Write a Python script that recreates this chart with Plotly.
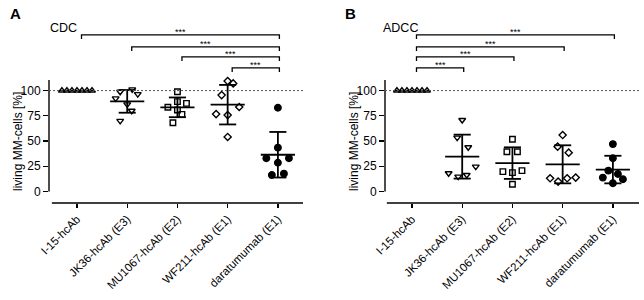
import numpy as np
import plotly.graph_objects as go

categories = ["I-15-hcAb", "JK36-hcAb (E3)", "MU1067-hcAb (E2)", "WF211-hcAb (E1)", "daratumumab (E1)"]

# Panel A: CDC, living MM-cells [%]
cdc_i15 = [100, 100, 100, 100, 100, 100, 100]
cdc_jk36 = [98.8, 101.2, 96.5, 92.3, 86.3, 80.0, 70.0]
cdc_mu1067 = [98.8, 89.0, 87.3, 83.4, 80.7, 76.4, 68.1]
cdc_wf211 = [109.4, 107.1, 95.5, 83.7, 76.7, 75.7, 54.0]
cdc_dara = [83.0, 43.4, 32.9, 32.9, 28.5, 16.3, 17.6]

# Panel B: ADCC, living MM-cells [%]
adcc_i15 = [100, 100, 100, 100, 100, 100, 100]
adcc_jk36 = [70.8, 53.3, 43.8, 24.6, 18.0, 14.7, 16.3]
adcc_mu1067 = [51.7, 39.4, 39.4, 19.6, 18.6, 20.6, 7.1]
adcc_wf211 = [55.9, 44.4, 38.4, 13.0, 9.7, 13.0, 13.7]
adcc_dara = [46.9, 32.9, 20.6, 17.3, 13.7, 12.1, 8.1]

# significance comparisons (group index pairs) and labels
cdc_pairs = [(0, 4), (1, 4), (2, 4), (3, 4)]
adcc_pairs = [(0, 4), (0, 3), (0, 2), (0, 1)]
sig_labels = ["***", "***", "***", "***"]

# ---- styling / placement (not data) ----
jitter_i15 = [-0.3, -0.2, -0.1, 0.0, 0.1, 0.2, 0.3]
cdc_jitter = [jitter_i15,
              [-0.14, 0.10, 0.21, -0.23, 0.0, 0.09, -0.14],
              [0.0, 0.0, 0.18, -0.19, 0.0, 0.09, -0.09],
              [0.0, 0.11, -0.12, 0.23, -0.23, 0.0, 0.0],
              [0.0, 0.0, -0.23, 0.22, 0.0, -0.12, 0.12]]
adcc_jitter = [jitter_i15,
               [0.0, -0.1, 0.12, 0.27, -0.27, -0.08, 0.09],
               [0.0, -0.11, 0.1, -0.19, 0.0, 0.19, 0.0],
               [0.0, -0.1, 0.12, -0.25, -0.09, 0.09, 0.26],
               [0.0, 0.0, -0.09, 0.1, -0.2, 0.2, 0.0]]
symbols = ["triangle-up-open", "triangle-down-open", "square-open", "diamond-open", "circle"]
sizes = [6, 6, 5.5, 5.5, 6.5]
bracket_y = [155.2, 143.3, 133.4, 122.5]
FONT = "Liberation Sans, Arial, sans-serif"

fig = go.Figure()


def add_panel(groups, jitters, xa, ya, pairs):
    for i, (vals, jit) in enumerate(zip(groups, jitters)):
        vals = np.array(vals, dtype=float)
        xs = [i + j for j in jit]
        fig.add_trace(go.Scatter(
            x=xs, y=vals, mode="markers", xaxis=xa, yaxis=ya, showlegend=False,
            cliponaxis=False,
            marker=dict(symbol=symbols[i], size=sizes[i], color="black",
                        line=dict(width=1.4, color="black"))))
        m = vals.mean()
        sd = vals.std(ddof=1)
        fig.add_trace(go.Scatter(x=[i - 0.34, i + 0.34], y=[m, m], mode="lines",
                                 xaxis=xa, yaxis=ya, showlegend=False,
                                 line=dict(color="black", width=1.8)))
        if sd > 0:
            fig.add_trace(go.Scatter(
                x=[i, i, None, i - 0.17, i + 0.17, None, i - 0.17, i + 0.17],
                y=[m - sd, m + sd, None, m + sd, m + sd, None, m - sd, m - sd],
                mode="lines", xaxis=xa, yaxis=ya, showlegend=False,
                line=dict(color="black", width=1.8)))
    for k, (a, b) in enumerate(pairs):
        y = bracket_y[k]
        x0 = a + 0.09
        x1 = b + 0.03
        fig.add_shape(type="path",
                      path=f"M {x0} {y-4} L {x0} {y} L {x1} {y} L {x1} {y-4}",
                      xref=xa, yref=ya, line=dict(color="black", width=1.3))
        fig.add_annotation(x=(x0 + x1) / 2, y=y, xref=xa, yref=ya, text=sig_labels[k],
                           showarrow=False, yanchor="bottom", yshift=-4,
                           font=dict(size=9, color="black", family=FONT))


add_panel([cdc_i15, cdc_jk36, cdc_mu1067, cdc_wf211, cdc_dara], cdc_jitter, "x", "y", cdc_pairs)
add_panel([adcc_i15, adcc_jk36, adcc_mu1067, adcc_wf211, adcc_dara], adcc_jitter, "x2", "y2", adcc_pairs)

W, H = 644, 300
ydom = [(H - 203) / H, (H - 20) / H]
yrange = [-11.5, 170.0]
common_x = dict(tickvals=list(range(5)), ticktext=categories, tickangle=-45,
                ticks="outside", ticklen=4, tickwidth=1.3, tickcolor="black",
                showline=False, showgrid=False, zeroline=False, automargin=False,
                tickfont=dict(size=11.5, color="black", family=FONT))
common_y = dict(range=yrange, domain=ydom, tickvals=[0, 25, 50, 75, 100],
                ticks="outside", ticklen=5, tickwidth=1.3, tickcolor="black",
                showline=False, showgrid=False, zeroline=False, automargin=False,
                tickfont=dict(size=12, color="black", family=FONT))

fig.update_layout(
    template="none",
    width=W, height=H, margin=dict(l=0, r=0, t=0, b=0, pad=0, autoexpand=False),
    paper_bgcolor="white", plot_bgcolor="white",
    xaxis=dict(domain=[49 / W, 303 / W], range=[-0.557, 4.5], anchor="y", **common_x),
    yaxis=dict(anchor="x", **common_y),
    xaxis2=dict(domain=[385 / W, 639 / W], range=[-0.537, 4.52], anchor="y2", **common_x),
    yaxis2=dict(anchor="x2", **common_y),
)

for xa, ya, xend in [("x", "y", 4.5), ("x2", "y2", 4.52)]:
    fig.add_shape(type="line", xref=f"{xa} domain", yref=ya, x0=0, x1=0, y0=0, y1=110.5,
                  line=dict(color="black", width=1.4))
    fig.add_shape(type="line", xref=xa, yref=f"{ya} domain", x0=-0.5, x1=xend, y0=0, y1=0,
                  line=dict(color="black", width=1.4))
    fig.add_shape(type="line", xref=f"{xa} domain", yref=ya, x0=0, x1=1, y0=100, y1=100,
                  line=dict(color="#555555", width=1, dash="2px,2px"))

texts = [
    ("A", 8, 13, 15, True, "left"),
    ("B", 343, 13, 15, True, "left"),
    ("CDC", 48, 28, 12.5, False, "left"),
    ("ADCC", 381, 28, 12.5, False, "left"),
]
for t, px, py, sz, bold, anc in texts:
    fig.add_annotation(x=px / W, y=1 - py / H, xref="paper", yref="paper",
                       text=f"<b>{t}</b>" if bold else t, showarrow=False,
                       xanchor=anc, yanchor="middle",
                       font=dict(size=sz, color="black", family=FONT))
for px in [18, 354]:
    fig.add_annotation(x=px / W, y=1 - 142 / H, xref="paper", yref="paper",
                       text="living MM-cells [%]", textangle=-90, showarrow=False,
                       xanchor="center", yanchor="middle",
                       font=dict(size=12, color="black", family=FONT))

fig.write_html("out.html", config={"displayModeBar": False, "staticPlot": True},
               post_script="document.body.style.margin='0';document.body.style.overflow='hidden';")
